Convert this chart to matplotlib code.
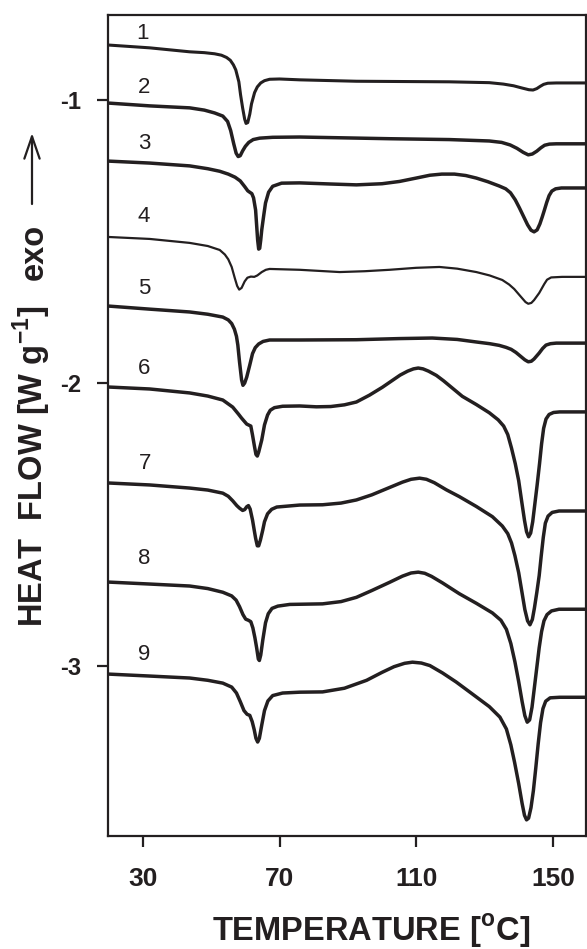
import numpy as np
import matplotlib.pyplot as plt
from matplotlib.patches import FancyArrowPatch

plt.rcParams['font.family'] = ['Liberation Sans', 'DejaVu Sans']
plt.rcParams['mathtext.fontset'] = 'custom'
plt.rcParams['mathtext.rm'] = 'Liberation Sans'
plt.rcParams['mathtext.bf'] = 'Liberation Sans:bold'

INK = '#231f20'

# DSC heating scans: (temperature [C], heat flow [W/g]) for samples 1..9
c1 = [(19.8, -0.806), (32.0, -0.816), (43.7, -0.830), (48.0, -0.833), (51.0, -0.837), (53.0, -0.842),
      (54.5, -0.850), (55.6, -0.860), (56.5, -0.876), (57.2, -0.894), (58.1, -0.936), (58.6, -0.982),
      (59.2, -1.028), (59.8, -1.068), (60.2, -1.083), (60.7, -1.080), (61.3, -1.050), (61.8, -1.014),
      (62.7, -0.974), (63.5, -0.954), (64.5, -0.940), (65.6, -0.932), (67.1, -0.927), (70.0, -0.926),
      (75.9, -0.929), (92.5, -0.934), (119.7, -0.936), (131.4, -0.939), (135.5, -0.944), (138.5, -0.950),
      (141.0, -0.958), (143.0, -0.964), (144.2, -0.965), (145.3, -0.960), (146.3, -0.952), (147.3, -0.945),
      (148.5, -0.941), (151.0, -0.940), (159.7, -0.940)]

c2 = [(19.8, -1.011), (32.0, -1.021), (43.7, -1.028), (48.0, -1.036), (51.0, -1.046), (53.4, -1.057),
      (54.8, -1.076), (55.7, -1.108), (56.6, -1.155), (57.3, -1.188), (57.9, -1.200), (58.5, -1.197),
      (59.2, -1.180), (60.0, -1.164), (61.0, -1.150), (62.3, -1.140), (64.2, -1.135), (68.0, -1.132),
      (75.9, -1.131), (102.2, -1.137), (119.7, -1.140), (131.4, -1.145), (135.0, -1.150), (137.5, -1.159),
      (139.5, -1.171), (141.3, -1.185), (142.8, -1.194), (144.0, -1.191), (145.3, -1.181), (146.5, -1.169),
      (147.6, -1.160), (149.0, -1.156), (151.0, -1.155), (159.7, -1.155)]

c3 = [(19.8, -1.216), (32.0, -1.223), (43.7, -1.233), (49.0, -1.243), (52.5, -1.252), (55.0, -1.262),
      (57.0, -1.273), (58.5, -1.286), (59.8, -1.306), (60.7, -1.321), (61.4, -1.327), (61.9, -1.331),
      (62.4, -1.346), (63.0, -1.389), (63.3, -1.442), (63.6, -1.495), (63.9, -1.527), (64.2, -1.524),
      (64.5, -1.495), (64.8, -1.459), (65.4, -1.406), (65.9, -1.364), (66.8, -1.326), (68.0, -1.305),
      (70.6, -1.294), (75.9, -1.293), (85.0, -1.297), (92.5, -1.300), (100.0, -1.296), (105.1, -1.288),
      (110.0, -1.276), (114.0, -1.266), (117.5, -1.262), (121.2, -1.262), (124.5, -1.267), (127.6, -1.276),
      (131.0, -1.289), (134.3, -1.304), (136.2, -1.314), (137.6, -1.328), (139.0, -1.353), (140.2, -1.381),
      (141.4, -1.411), (142.6, -1.441), (143.6, -1.460), (144.5, -1.466), (145.4, -1.459), (146.2, -1.438),
      (146.9, -1.413), (147.5, -1.390), (148.2, -1.362), (148.9, -1.338), (149.7, -1.322), (150.8, -1.314),
      (152.5, -1.311), (159.7, -1.311)]

c4 = [(19.8, -1.484), (32.0, -1.491), (43.7, -1.505), (49.0, -1.516), (52.5, -1.530), (54.0, -1.546),
      (55.0, -1.563), (56.0, -1.590), (56.9, -1.629), (57.6, -1.657), (58.2, -1.670), (58.9, -1.664),
      (59.8, -1.641), (60.6, -1.628), (61.6, -1.624), (62.6, -1.625), (63.5, -1.620), (64.8, -1.608),
      (66.0, -1.600), (67.1, -1.597), (75.9, -1.600), (87.6, -1.608), (95.0, -1.605), (102.2, -1.600),
      (110.0, -1.593), (116.8, -1.590), (122.0, -1.596), (127.6, -1.608), (131.5, -1.620), (135.2, -1.636),
      (137.2, -1.652), (138.7, -1.668), (140.7, -1.696), (142.0, -1.714), (142.8, -1.720), (143.7, -1.717),
      (144.5, -1.707), (146.0, -1.682), (147.5, -1.650), (148.3, -1.635), (149.5, -1.627), (152.7, -1.625),
      (159.7, -1.625)]

c5 = [(19.8, -1.728), (32.0, -1.739), (43.7, -1.749), (49.0, -1.757), (53.4, -1.767), (55.0, -1.777),
      (56.0, -1.790), (56.8, -1.810), (57.4, -1.835), (57.8, -1.866), (58.3, -1.926), (58.9, -1.989),
      (59.3, -2.008), (59.8, -2.000), (60.4, -1.979), (61.3, -1.936), (62.1, -1.896), (62.9, -1.875),
      (63.9, -1.862), (65.2, -1.853), (67.1, -1.848), (75.9, -1.848), (92.5, -1.847), (105.0, -1.843),
      (114.7, -1.841), (122.0, -1.846), (127.6, -1.855), (131.5, -1.861), (134.3, -1.867), (136.3, -1.874),
      (137.8, -1.881), (139.2, -1.892), (140.5, -1.905), (141.8, -1.918), (142.8, -1.925), (143.7, -1.923),
      (144.5, -1.915), (146.0, -1.894), (147.0, -1.878), (148.0, -1.866), (149.3, -1.861), (151.0, -1.859),
      (159.7, -1.859)]

c6 = [(19.8, -2.014), (32.0, -2.021), (43.7, -2.035), (49.0, -2.046), (53.4, -2.060), (56.3, -2.085),
      (58.0, -2.110), (58.9, -2.124), (60.4, -2.145), (61.6, -2.152), (62.1, -2.184), (62.7, -2.226),
      (63.1, -2.252), (63.5, -2.258), (63.9, -2.244), (64.8, -2.201), (65.6, -2.148), (66.5, -2.113),
      (67.3, -2.096), (68.5, -2.087), (70.9, -2.082), (75.9, -2.081), (80.8, -2.084), (85.0, -2.083),
      (89.0, -2.077), (92.5, -2.067), (96.3, -2.043), (100.1, -2.015), (103.0, -1.991), (105.3, -1.972),
      (107.5, -1.958), (109.2, -1.950), (110.6, -1.947), (112.0, -1.950), (113.6, -1.958), (115.9, -1.973),
      (118.0, -1.992), (119.7, -2.009), (123.5, -2.047), (127.6, -2.076), (131.4, -2.105), (134.0, -2.130),
      (135.6, -2.152), (136.8, -2.182), (137.9, -2.230), (139.0, -2.285), (140.0, -2.345), (140.9, -2.420),
      (141.7, -2.485), (142.3, -2.525), (142.9, -2.543), (143.5, -2.530), (144.1, -2.490), (144.7, -2.430),
      (145.4, -2.360), (146.1, -2.285), (146.7, -2.215), (147.3, -2.160), (148.0, -2.127), (148.9, -2.111),
      (150.2, -2.104), (152.0, -2.102), (159.7, -2.102)]

c7 = [(19.8, -2.353), (32.0, -2.360), (43.7, -2.371), (49.0, -2.378), (53.4, -2.389), (55.0, -2.400),
      (56.3, -2.416), (57.5, -2.433), (58.3, -2.442), (59.2, -2.450), (59.8, -2.447), (60.4, -2.437),
      (60.9, -2.433), (61.4, -2.445), (62.1, -2.484), (62.6, -2.520), (63.0, -2.548), (63.5, -2.575),
      (63.9, -2.575), (64.4, -2.555), (65.1, -2.519), (65.6, -2.490), (66.5, -2.462), (67.7, -2.446),
      (69.2, -2.438), (75.9, -2.431), (82.6, -2.430), (88.0, -2.424), (92.5, -2.413), (97.0, -2.395),
      (102.2, -2.369), (106.0, -2.350), (108.5, -2.340), (111.0, -2.336), (113.0, -2.340), (115.3, -2.352),
      (118.8, -2.377), (122.6, -2.401), (127.6, -2.436), (132.3, -2.472), (135.2, -2.505), (136.8, -2.532),
      (137.9, -2.565), (138.9, -2.610), (140.0, -2.670), (141.0, -2.742), (141.8, -2.800), (142.6, -2.840),
      (143.3, -2.854), (144.0, -2.835), (144.6, -2.795), (145.3, -2.740), (146.0, -2.680), (146.6, -2.610),
      (147.2, -2.545), (147.8, -2.495), (148.6, -2.470), (149.8, -2.457), (151.8, -2.452), (159.7, -2.452)]

c8 = [(19.8, -2.703), (32.0, -2.710), (43.7, -2.717), (49.0, -2.726), (53.4, -2.739), (56.0, -2.752),
      (57.3, -2.767), (58.3, -2.790), (59.3, -2.818), (60.1, -2.834), (60.9, -2.838), (61.6, -2.843),
      (62.2, -2.865), (62.8, -2.900), (63.3, -2.935), (63.8, -2.975), (64.1, -2.980), (64.5, -2.961),
      (65.1, -2.908), (65.9, -2.847), (66.7, -2.815), (67.8, -2.796), (69.5, -2.788), (73.0, -2.782),
      (82.6, -2.780), (88.0, -2.772), (92.5, -2.757), (97.0, -2.733), (102.2, -2.704), (106.0, -2.682),
      (108.5, -2.671), (110.6, -2.668), (112.5, -2.672), (114.5, -2.683), (117.7, -2.706), (122.6, -2.744),
      (127.6, -2.778), (132.3, -2.812), (134.8, -2.838), (136.4, -2.870), (137.7, -2.920), (138.9, -2.985),
      (140.0, -3.055), (141.0, -3.125), (141.8, -3.175), (142.5, -3.198), (143.2, -3.190), (143.9, -3.145),
      (144.6, -3.075), (145.3, -3.005), (146.0, -2.935), (146.7, -2.878), (147.4, -2.840), (148.3, -2.818),
      (149.6, -2.805), (151.8, -2.799), (159.7, -2.799)]

c9 = [(19.8, -3.028), (32.0, -3.035), (43.7, -3.042), (49.0, -3.050), (53.4, -3.060), (56.0, -3.074),
      (57.4, -3.095), (58.5, -3.125), (59.6, -3.157), (60.5, -3.170), (61.3, -3.174), (62.0, -3.196),
      (62.6, -3.225), (63.1, -3.255), (63.6, -3.268), (64.1, -3.255), (64.8, -3.208), (65.6, -3.157),
      (66.6, -3.123), (68.0, -3.104), (70.9, -3.095), (75.9, -3.092), (82.6, -3.091), (89.0, -3.078),
      (95.5, -3.050), (100.0, -3.022), (103.5, -3.002), (106.6, -2.990), (108.9, -2.986), (111.5, -2.989),
      (114.0, -2.998), (117.7, -3.024), (121.7, -3.056), (126.4, -3.098), (131.4, -3.143), (134.5, -3.180),
      (136.4, -3.222), (137.7, -3.278), (138.8, -3.340), (140.0, -3.415), (141.0, -3.485), (141.7, -3.527),
      (142.3, -3.543), (142.9, -3.537), (143.6, -3.500), (144.3, -3.440), (145.0, -3.360), (145.7, -3.275),
      (146.4, -3.200), (147.1, -3.150), (147.9, -3.124), (149.2, -3.112), (152.0, -3.110), (159.7, -3.110)]

curves = [c1, c2, c3, c4, c5, c6, c7, c8, c9]
widths = [2.2, 2.5, 2.5, 1.6, 2.5, 2.5, 2.5, 2.5, 2.5]

# sample numbers above each trace
lab_t = [30.0, 30.3, 30.3, 30.3, 30.3, 30.3, 30.7, 30.3, 30.3]
lab_h = [-0.784, -0.975, -1.173, -1.431, -1.686, -1.968, -2.304, -2.640, -2.979]

fig = plt.figure(figsize=(5.87, 9.49), dpi=100)
ax = fig.add_axes([108 / 587, 1 - 836 / 949, 478 / 587, 821 / 949])

for i, c in enumerate(curves):
    t, h = np.array(c).T
    ax.plot(t, h, color=INK, lw=widths[i],
            solid_joinstyle='round', solid_capstyle='round')
    ax.text(lab_t[i], lab_h[i], str(i + 1), fontsize=16, color=INK,
            ha='center', va='baseline')

ax.set_xlim(19.8, 159.7)
ax.set_ylim(-3.60, -0.70)
ax.set_xticks([30, 70, 110, 150])
ax.set_yticks([-1, -2, -3])
ax.set_yticklabels(['-1', '-2', '-3'])

for s in ax.spines.values():
    s.set_linewidth(1.6)
    s.set_color(INK)
ax.tick_params(axis='both', direction='out', length=8, width=1.6, color=INK,
               top=False, right=False)
ax.tick_params(axis='x', labelsize=19, pad=14)
ax.tick_params(axis='y', labelsize=17, pad=11)
for lab in ax.get_xticklabels() + ax.get_yticklabels():
    lab.set_fontweight('bold')
    lab.set_color(INK)

fig.text(371.5 / 587, 1 - 941 / 949, r'TEMPERATURE [$^{\mathbf{o}}$C]',
         fontsize=23.5, fontweight='bold', color=INK, ha='center', va='baseline')

fig.text(43 / 587, 1 - 627 / 949, r'HEAT  FLOW [W g$^{\mathbf{-1}}$]',
         fontsize=23.5, fontweight='bold', color=INK, rotation=90,
         rotation_mode='anchor', ha='left', va='baseline')
fig.text(43 / 587, 1 - 280 / 949, 'exo', fontsize=23.5, fontweight='bold',
         color=INK, rotation=90, rotation_mode='anchor', ha='left', va='baseline')

arrow = FancyArrowPatch((32 / 587, 1 - 204 / 949), (32 / 587, 1 - 133 / 949),
                        transform=fig.transFigure, color=INK, lw=1.6,
                        arrowstyle='->, head_length=16, head_width=5.5',
                        mutation_scale=1, shrinkA=0, shrinkB=0)
fig.add_artist(arrow)

fig.savefig('out.png', dpi=100)
